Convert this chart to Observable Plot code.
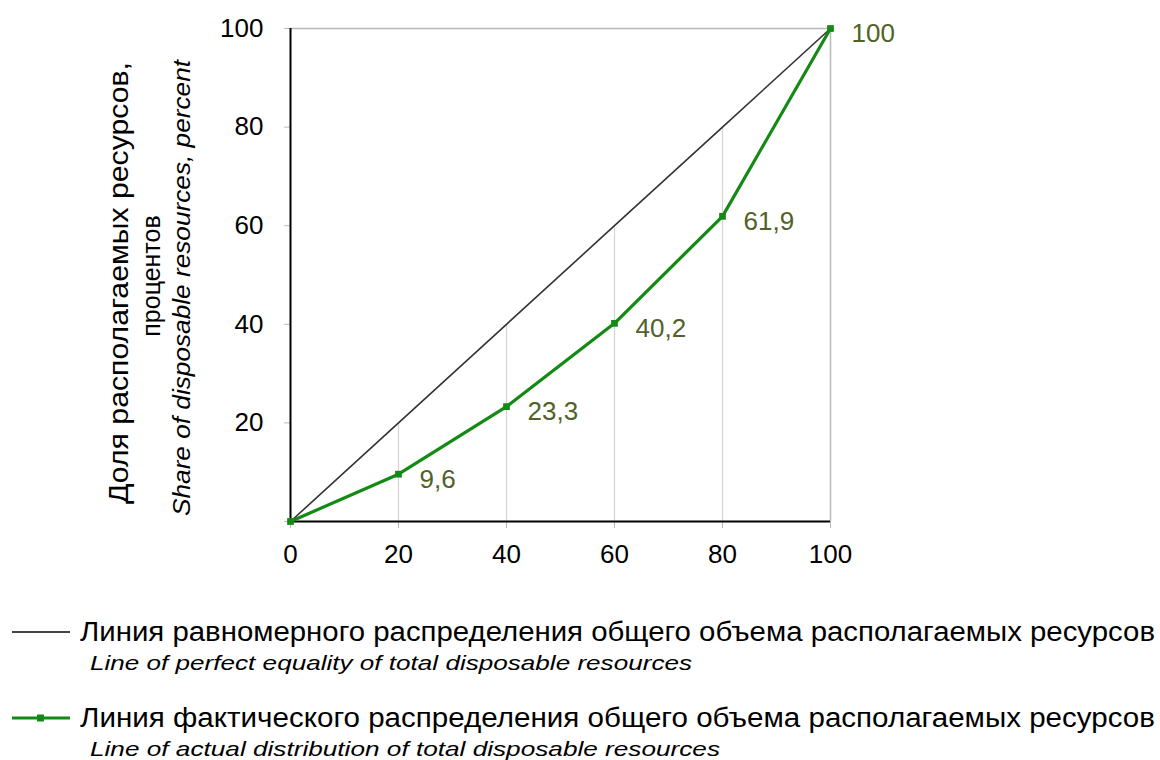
<!DOCTYPE html>
<html>
<head>
<meta charset="utf-8">
<script src="https://cdn.jsdelivr.net/npm/d3@7"></script>
<script src="https://cdn.jsdelivr.net/npm/@observablehq/plot@0.6"></script>
<style>
  html, body { margin: 0; padding: 0; background: #fff; }
  #chart svg { display: block; }
  #legend { display: block; }
</style>
</head>
<body>
<div id="chart"></div>
<svg id="legend" width="1160" height="170"></svg>
<script>
// ---- data ----
const popShare = [0, 20, 40, 60, 80, 100];           // cumulative population share, %
const resShare = [0, 9.6, 23.3, 40.2, 61.9, 100];    // cumulative share of disposable resources, %
const pointLabels = ["", "9,6", "23,3", "40,2", "61,9", "100"];
const xTicks = [0, 20, 40, 60, 80, 100];
const yTicks = [0, 20, 40, 60, 80, 100];
const gridX = [20, 40, 60, 80];

const yTitleRu1 = "Доля располагаемых ресурсов,";
const yTitleRu2 = "процентов";
const yTitleEn = "Share of disposable resources, percent";
const legendRu = [
  "Линия равномерного распределения общего объема располагаемых ресурсов",
  "Линия фактического распределения общего объема располагаемых ресурсов"
];
const legendEn = [
  "Line of perfect equality of total disposable resources",
  "Line of actual distribution of total disposable resources"
];

const FONT = "'Liberation Sans', Arial, sans-serif";
const GREEN = "#138a13";
const LABEL = "#4f6228";

const actual = popShare.map((x, i) => ({x, y: resShare[i], label: pointLabels[i]}));
const equality = popShare.map(x => ({x, y: x}));

const plot = Plot.plot({
  width: 1160,
  height: 590,
  marginLeft: 290,
  marginRight: 330,
  marginTop: 28,
  marginBottom: 69,
  style: {fontFamily: FONT, fontSize: "26px", color: "#000", background: "#fff"},
  x: {domain: [0, 100]},
  y: {domain: [0, 100]},
  marks: [
    // vertical gridlines up to the equality line
    Plot.ruleX(gridX, {x: d => d, y1: 0, y2: d => d, stroke: "#d4d4d4", strokeWidth: 1.2}),
    // top & right frame
    Plot.ruleY([100], {x1: 0, x2: 100, stroke: "#b8b8b8", strokeWidth: 1.5}),
    Plot.ruleX([100], {y1: 0, y2: 100, stroke: "#b8b8b8", strokeWidth: 1.5}),
    Plot.axisX({ticks: xTicks, tickSize: 7, tickPadding: 16, stroke: "#b8b8b8", fill: "#000",
                fontSize: 26, label: null, tickFormat: d => d}),
    Plot.axisY({ticks: yTicks, tickSize: 6, tickPadding: 21, stroke: "#b8b8b8", fill: "#000",
                fontSize: 26, label: null, tickFormat: d => d === 0 ? "" : d}),
    // axis lines
    Plot.ruleX([0], {y1: 0, y2: 100, stroke: "#000", strokeWidth: 2}),
    Plot.ruleY([0], {x1: 0, x2: 100, stroke: "#000", strokeWidth: 2}),
    // equality line
    Plot.line(equality, {x: "x", y: "y", stroke: "#333", strokeWidth: 1.6}),
    // actual distribution
    Plot.line(actual, {x: "x", y: "y", stroke: GREEN, strokeWidth: 3.2}),
    Plot.dot(actual, {x: "x", y: "y", symbol: "square", r: 3.8, fill: GREEN, stroke: "none"}),
    Plot.text(actual, {x: "x", y: "y", text: "label", textAnchor: "start", dx: 21, dy: 5,
                       fill: LABEL, fontSize: 26})
  ]
});
document.getElementById("chart").appendChild(plot);

// rotated y-axis titles
const svg = d3.select(plot);
const titles = [
  {t: yTitleRu1, x: 118, y: 283, len: 442, italic: false, size: 27},
  {t: yTitleRu2, x: 151, y: 276, len: null, italic: false, size: 25},
  {t: yTitleEn, x: 182, y: 288, len: 456, italic: true, size: 23}
];
const tsel = svg.selectAll("text.ytitle").data(titles).join("text")
  .attr("class", "ytitle")
  .attr("transform", d => `translate(${d.x},${d.y}) rotate(-90)`)
  .attr("text-anchor", "middle")
  .attr("dy", "0.36em")
  .attr("font-family", FONT)
  .attr("font-size", d => d.size)
  .attr("font-style", d => d.italic ? "italic" : "normal")
  .attr("fill", "#000")
  .text(d => d.t);
tsel.filter(d => d.len).attr("textLength", d => d.len).attr("lengthAdjust", "spacingAndGlyphs");

// legend
const lg = d3.select("#legend");
const items = [
  {ru: legendRu[0], en: legendEn[0], color: "#444", w: 2, marker: false, y: 42, ruLen: 1075, enLen: 602},
  {ru: legendRu[1], en: legendEn[1], color: GREEN, w: 3.2, marker: true, y: 128, ruLen: 1075, enLen: 630}
];
items.forEach(it => {
  lg.append("line").attr("x1", 12).attr("x2", 70).attr("y1", it.y).attr("y2", it.y)
    .attr("stroke", it.color).attr("stroke-width", it.w);
  if (it.marker) {
    lg.append("rect").attr("x", 37).attr("y", it.y - 3.5).attr("width", 7).attr("height", 7).attr("fill", it.color);
  }
  lg.append("text").attr("x", 80).attr("y", it.y + 9)
    .attr("font-family", FONT).attr("font-size", 27).attr("fill", "#000")
    .attr("textLength", it.ruLen).attr("lengthAdjust", "spacingAndGlyphs")
    .text(it.ru);
  lg.append("text").attr("x", 90).attr("y", it.y + 38)
    .attr("font-family", FONT).attr("font-size", 21).attr("font-style", "italic").attr("fill", "#000")
    .attr("textLength", it.enLen).attr("lengthAdjust", "spacingAndGlyphs")
    .text(it.en);
});
</script>
</body>
</html>
